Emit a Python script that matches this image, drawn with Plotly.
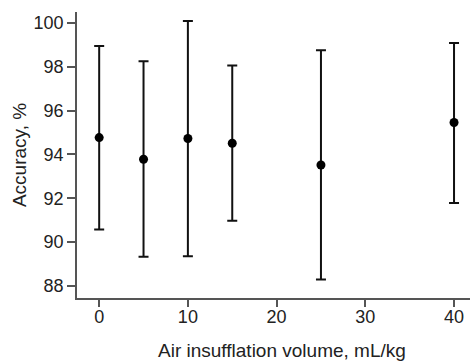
import plotly.graph_objects as go

volume = [0, 5, 10, 15, 25, 40]
accuracy = [94.77, 93.78, 94.73, 94.51, 93.52, 95.46]
upper = [98.95, 98.25, 100.09, 98.06, 98.75, 99.09]
lower = [90.57, 89.33, 89.36, 90.97, 88.29, 91.79]

err_plus = [u - m for u, m in zip(upper, accuracy)]
err_minus = [m - l for m, l in zip(accuracy, lower)]

fig = go.Figure()
fig.add_trace(go.Scatter(
    x=volume, y=accuracy, mode="markers",
    marker=dict(color="black", size=9),
    error_y=dict(type="data", symmetric=False, array=err_plus, arrayminus=err_minus,
                 color="#111111", thickness=2, width=5),
    showlegend=False,
))

font = dict(family="Liberation Sans, Arial", size=18, color="#222222")
title_font = dict(family="Liberation Sans, Arial", size=19, color="#222222")
axis_common = dict(
    showline=True, linecolor="#555555", linewidth=1.5,
    tickwidth=1.5, tickcolor="#555555", ticks="outside",
    showgrid=False, zeroline=False,
    tickfont=font, title_font=title_font,
)

fig.update_layout(
    width=472, height=361,
    margin=dict(l=77, r=2, t=12, b=63),
    plot_bgcolor="white", paper_bgcolor="white",
    xaxis=dict(range=[-2.5, 41.8], tickvals=[0, 10, 20, 30, 40], ticklen=7,
               ticklabelstandoff=-5, **axis_common),
    yaxis=dict(range=[87.45, 100.5], tickvals=[88, 90, 92, 94, 96, 98, 100], ticklen=8,
               title=dict(text="Accuracy, %", standoff=2), **axis_common),
    annotations=[dict(text="Air insufflation volume, mL/kg", xref="paper", yref="paper",
                      x=0.5216, y=-0.182, xanchor="center", yanchor="middle",
                      showarrow=False, font=title_font)],
)

fig.write_html("out.html")
